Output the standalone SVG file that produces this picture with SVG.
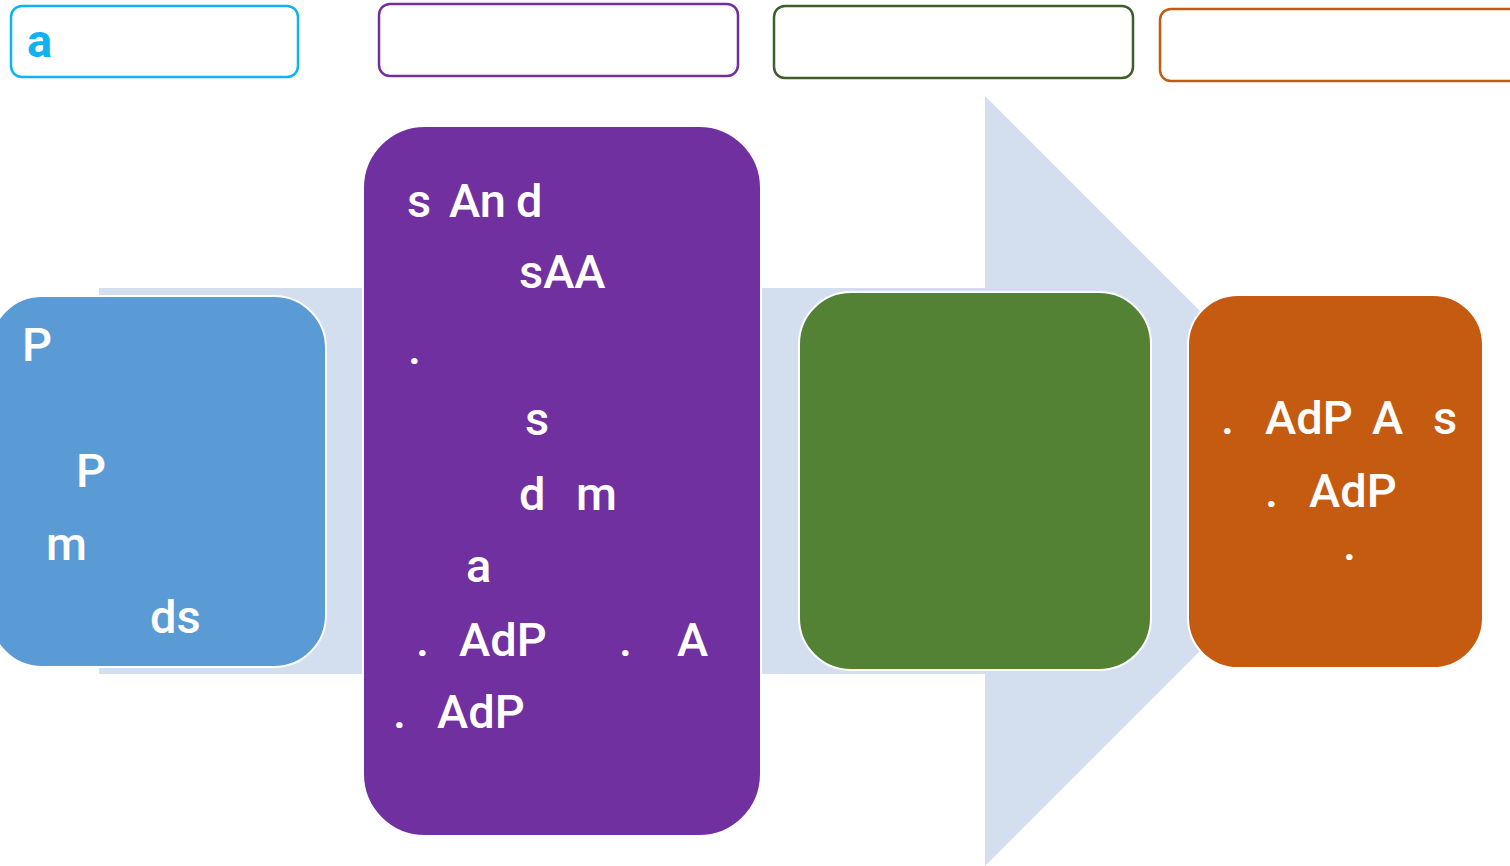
<svg xmlns="http://www.w3.org/2000/svg" width="1510" height="866" viewBox="0 0 1510 866">
<style>
.hdr{fill:#FFFFFF;stroke-width:2.5}
.box{stroke:#FFFFFF;stroke-width:2}
.t{font-family:Roboto,"Liberation Sans",Arial,sans-serif;font-size:47px;font-weight:500;fill:#FFFFFF}
</style>
<rect width="1510" height="866" fill="#FFFFFF"/>
<g id="arrow-backdrop">
<polygon points="99,288 985,288 985,96 1370,481 985,866 985,674 99,674" fill="#D3DEEF"/>
</g>
<g id="connectors"></g>
<g id="header-1">
<rect class="hdr" x="11" y="6" width="287" height="71" rx="11" stroke="#0DB4EF"/>
<text class="t" x="27" y="57" style="fill:#0DB4EF;font-weight:700">a</text>
</g>
<g id="header-2">
<rect class="hdr" x="379" y="4" width="359" height="72" rx="11" stroke="#7030A0"/>
</g>
<g id="header-3">
<rect class="hdr" x="774" y="6" width="359" height="72" rx="11" stroke="#3E5F2B"/>
</g>
<g id="header-4">
<rect class="hdr" x="1160" y="9" width="360" height="72" rx="11" stroke="#C55A11"/>
</g>
<g id="node-blue">
<rect class="box" x="-10" y="296" width="336" height="371" rx="52" fill="#5B9BD5"/>
<text class="t"><tspan x="22" y="361">P</tspan><tspan x="76" y="487">P</tspan><tspan x="46" y="560">m</tspan><tspan x="150" y="633">ds</tspan></text>
</g>
<g id="node-purple">
<rect class="box" x="363" y="126" width="398" height="710" rx="62" fill="#7030A0"/>
<text class="t"><tspan x="407" y="217">s</tspan><tspan x="449" y="217">An</tspan><tspan x="516" y="217">d</tspan></text>
<text class="t" x="519" y="288">sAA</text>
<text class="t" x="408" y="364">.</text>
<text class="t" x="525" y="435">s</text>
<text class="t"><tspan x="519" y="510">d</tspan><tspan x="576" y="510">m</tspan></text>
<text class="t" x="466" y="582">a</text>
<text class="t"><tspan x="416" y="656">.</tspan><tspan x="459" y="656">AdP</tspan><tspan x="619" y="656">.</tspan><tspan x="677" y="656">A</tspan></text>
<text class="t"><tspan x="393" y="728">.</tspan><tspan x="437" y="728">AdP</tspan></text>
</g>
<g id="node-green">
<rect class="box" x="799" y="292" width="352" height="378" rx="52" fill="#548235"/>
</g>
<g id="node-orange">
<rect class="box" x="1188" y="295" width="295" height="373" rx="50" fill="#C55A11"/>
<text class="t"><tspan x="1221" y="434">.</tspan><tspan x="1265" y="434">AdP</tspan><tspan x="1372" y="434">A</tspan><tspan x="1433" y="434">s</tspan></text>
<text class="t"><tspan x="1265" y="507">.</tspan><tspan x="1309" y="507">AdP</tspan></text>
<text class="t" x="1343" y="560">.</text>
</g>
</svg>
